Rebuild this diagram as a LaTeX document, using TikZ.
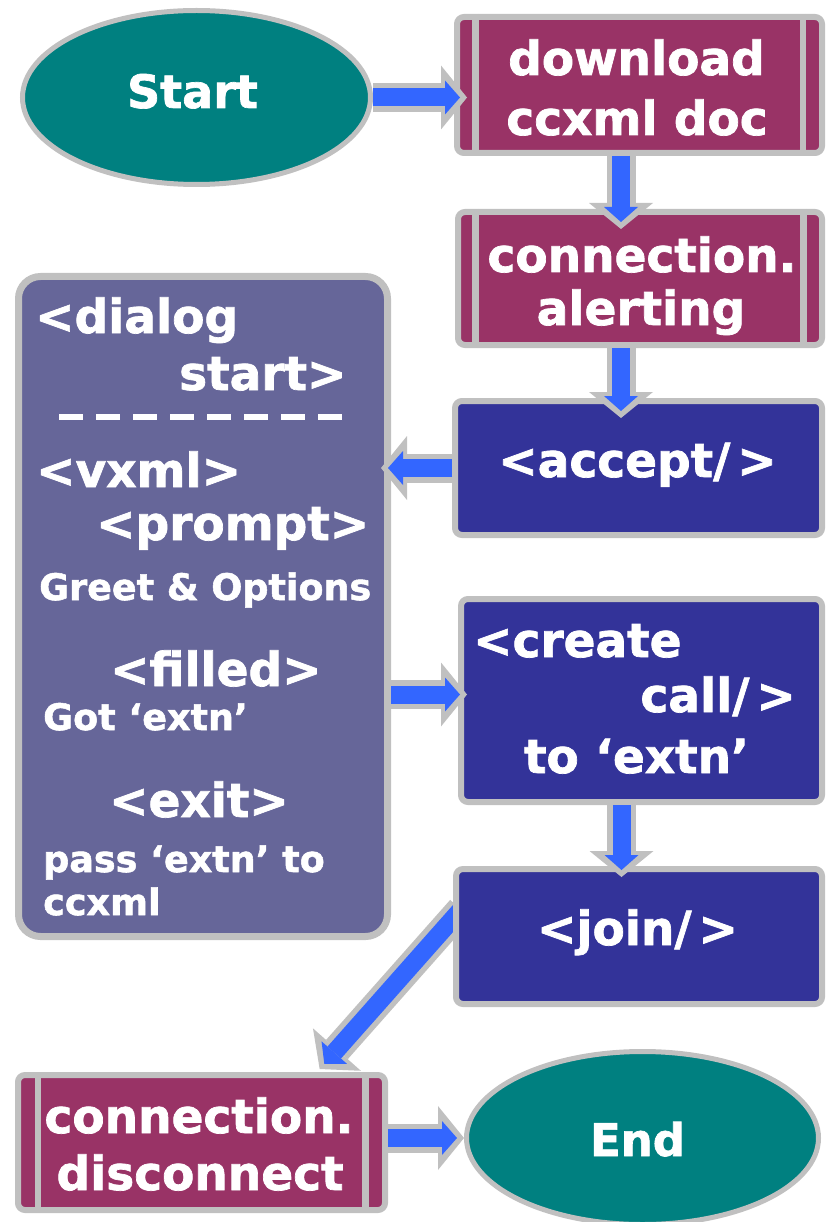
\documentclass[tikz,border=0pt]{standalone}
\usepackage{fontspec}
\setmainfont{DejaVu Sans}[BoldFeatures={FakeBold=1.5}]
\usetikzlibrary{arrows.meta,shapes.geometric}
\definecolor{tealc}{HTML}{008080}
\definecolor{magc}{HTML}{993366}
\definecolor{navyc}{HTML}{333399}
\definecolor{dlgc}{HTML}{666699}
\definecolor{arrblue}{HTML}{3366FF}
\definecolor{bordergray}{HTML}{C0C0C0}
\pgfdeclarelayer{bg}
\pgfsetlayers{bg,main}
\newcommand\slgap{\hspace{7pt}}
\begin{document}
\begin{tikzpicture}[x=1pt,y=-1pt,
  txt/.style={font=\bfseries\fontsize{47}{56}\selectfont, text=white, inner sep=0pt, anchor=base},
  smalltxt/.style={font=\bfseries\fontsize{36.5}{42}\selectfont, text=white, inner sep=0pt, anchor=base west},
  oval/.style={ellipse, draw=bordergray, line width=5pt, fill=tealc, inner sep=0pt},
  procbox/.style={rectangle, rounded corners=7pt, draw=bordergray, line width=6pt, fill=magc, inner sep=0pt},
  actbox/.style={rectangle, rounded corners=7pt, draw=bordergray, line width=6pt, fill=navyc, inner sep=0pt},
  dlgbox/.style={rectangle, rounded corners=22pt, draw=bordergray, line width=7pt, fill=dlgc, inner sep=0pt},
  sepline/.style={draw=bordergray, line width=6.5pt},
  arrbg/.style={draw=bordergray, line width=29pt, -{Triangle[width=64pt,length=26pt,line width=0pt]}},
  arrfg/.style={draw=arrblue, line width=18pt, -{Triangle[width=34pt,length=15pt,line width=0pt]}}
]
\useasboundingbox (0,0) rectangle (829,1222);

% ---- boxes
\node[oval, minimum width=348pt, minimum height=174pt] (start) at (196.5,97.5) {};
\node[procbox, minimum width=365pt, minimum height=136pt] (dl) at (639.5,85) {};
\node[procbox, minimum width=364pt, minimum height=133pt] (al) at (640,278.5) {};
\node[actbox, minimum width=367pt, minimum height=134pt] (acc) at (638.5,468) {};
\node[actbox, minimum width=361pt, minimum height=203pt] (cr) at (641.5,700.5) {};
\node[actbox, minimum width=366pt, minimum height=135pt] (jn) at (639,936.5) {};
\node[dlgbox, minimum width=369pt, minimum height=660pt] (dlg) at (203,606.5) {};
\node[procbox, minimum width=367pt, minimum height=135pt] (dc) at (201.5,1142.5) {};
\node[oval, minimum width=352pt, minimum height=173pt] (end) at (642.5,1138) {};

% predefined-process side bars
\draw[sepline] ([xshift=21.5pt]dl.north west) -- ([xshift=21.5pt]dl.south west);
\draw[sepline] ([xshift=-22pt]dl.north east) -- ([xshift=-22pt]dl.south east);
\draw[sepline] ([xshift=20.5pt]al.north west) -- ([xshift=20.5pt]al.south west);
\draw[sepline] ([xshift=-21.5pt]al.north east) -- ([xshift=-21.5pt]al.south east);
\draw[sepline] ([xshift=23pt]dc.north west) -- ([xshift=23pt]dc.south west);
\draw[sepline] ([xshift=-22.5pt]dc.north east) -- ([xshift=-22.5pt]dc.south east);

% ---- texts
\node[txt, font=\bfseries\fontsize{46}{56}\selectfont] (tstart) at (192.5,108) {Start};
\node[txt] (tdl1) at (636.5,75) {download};
\node[txt] (tdl2) at (637,135) {ccxml doc};
\node[txt] (tal1) at (642,272) {connection.};
\node[txt] (tal2) at (641,325) {alerting};
\node[txt] (tacc) at (637.5,477) {<accept/\slgap>};
\node[txt, anchor=base west] (tcr1) at (473,657) {<create};
\node[txt, anchor=base east] (tcr2) at (796,712) {call/\slgap>};
\node[txt] (tcr3) at (636.5,773) {to ‘extn’};
\node[txt] (tjn) at (637.5,945) {<join/\slgap>};
\node[txt] (tdc1) at (199,1133) {connection.};
\node[txt] (tdc2) at (200,1190) {disconnect};
\node[txt, font=\bfseries\fontsize{45}{56}\selectfont] (tend) at (637.5,1156) {End};

\node[txt, anchor=base west] (d1) at (35,333) {<dialog};
\node[txt, anchor=base west] (d2) at (179,390) {start>};
\draw[white, line width=6pt, dash pattern=on 24pt off 13pt] (59,417) -- (342,417);
\node[txt, anchor=base west] (d3) at (36,487) {<vxml>};
\node[txt, anchor=base west] (d4) at (96,540) {<prompt>};
\node[smalltxt] (d5) at (39,600) {Greet \& Options};
\node[txt, anchor=base west] (d6) at (110,686) {<filled>};
\node[smalltxt] (d7) at (43,730) {Got ‘extn’};
\node[txt, anchor=base west] (d8) at (109,817) {<exit>};
\node[smalltxt] (d9) at (43,872) {pass ‘extn’ to};
\node[smalltxt] (d10) at (43,915) {ccxml};

% ---- connectors
% start -> download
\draw[arrbg, shorten >=-13pt] (start.east) -- (start.east -| dl.west);
\draw[arrfg, shorten >=-6pt] (start.east) -- (start.east -| dl.west);
% download -> alerting
\draw[arrbg, shorten >=-20pt] ([xshift=-18.5pt]dl.south) -- ([xshift=-18.5pt]dl.south |- al.north);
\draw[arrfg, shorten >=-13pt] ([xshift=-18.5pt]dl.south) -- ([xshift=-18.5pt]dl.south |- al.north);
% alerting -> accept
\draw[arrbg, shorten >=-20pt] ([xshift=-19pt]al.south) -- ([xshift=-19pt]al.south |- acc.north);
\draw[arrfg, shorten >=-13pt] ([xshift=-19pt]al.south) -- ([xshift=-19pt]al.south |- acc.north);
% accept -> dialog
\draw[arrbg, shorten >=-10pt] (acc.west) -- (acc.west -| dlg.east);
\draw[arrfg, shorten >=-3pt] (acc.west) -- (acc.west -| dlg.east);
% dialog -> create call
\draw[arrbg, shorten >=-9pt] ([yshift=6pt]cr.west -| dlg.east) -- ([yshift=6pt]cr.west);
\draw[arrfg, shorten >=-2pt] ([yshift=6pt]cr.west -| dlg.east) -- ([yshift=6pt]cr.west);
% create call -> join
\draw[arrbg, shorten >=-11pt] ([xshift=-20pt]cr.south) -- ([xshift=-20pt]cr.south |- jn.north);
\draw[arrfg, shorten >=-4pt] ([xshift=-20pt]cr.south) -- ([xshift=-20pt]cr.south |- jn.north);
% join -> disconnect (behind the join box)
\begin{pgfonlayer}{bg}
\draw[arrbg, shorten >=4pt] ([xshift=8pt,yshift=27pt]jn.west) -- ([xshift=115.5pt]dc.north);
\draw[arrfg, shorten >=11pt] ([xshift=8pt,yshift=27pt]jn.west) -- ([xshift=115.5pt]dc.north);
\end{pgfonlayer}
% disconnect -> end
\draw[arrbg] (end.west -| dc.east) -- (end.west);
\draw[arrfg, shorten >=7pt] (end.west -| dc.east) -- (end.west);
\end{tikzpicture}
\end{document}
